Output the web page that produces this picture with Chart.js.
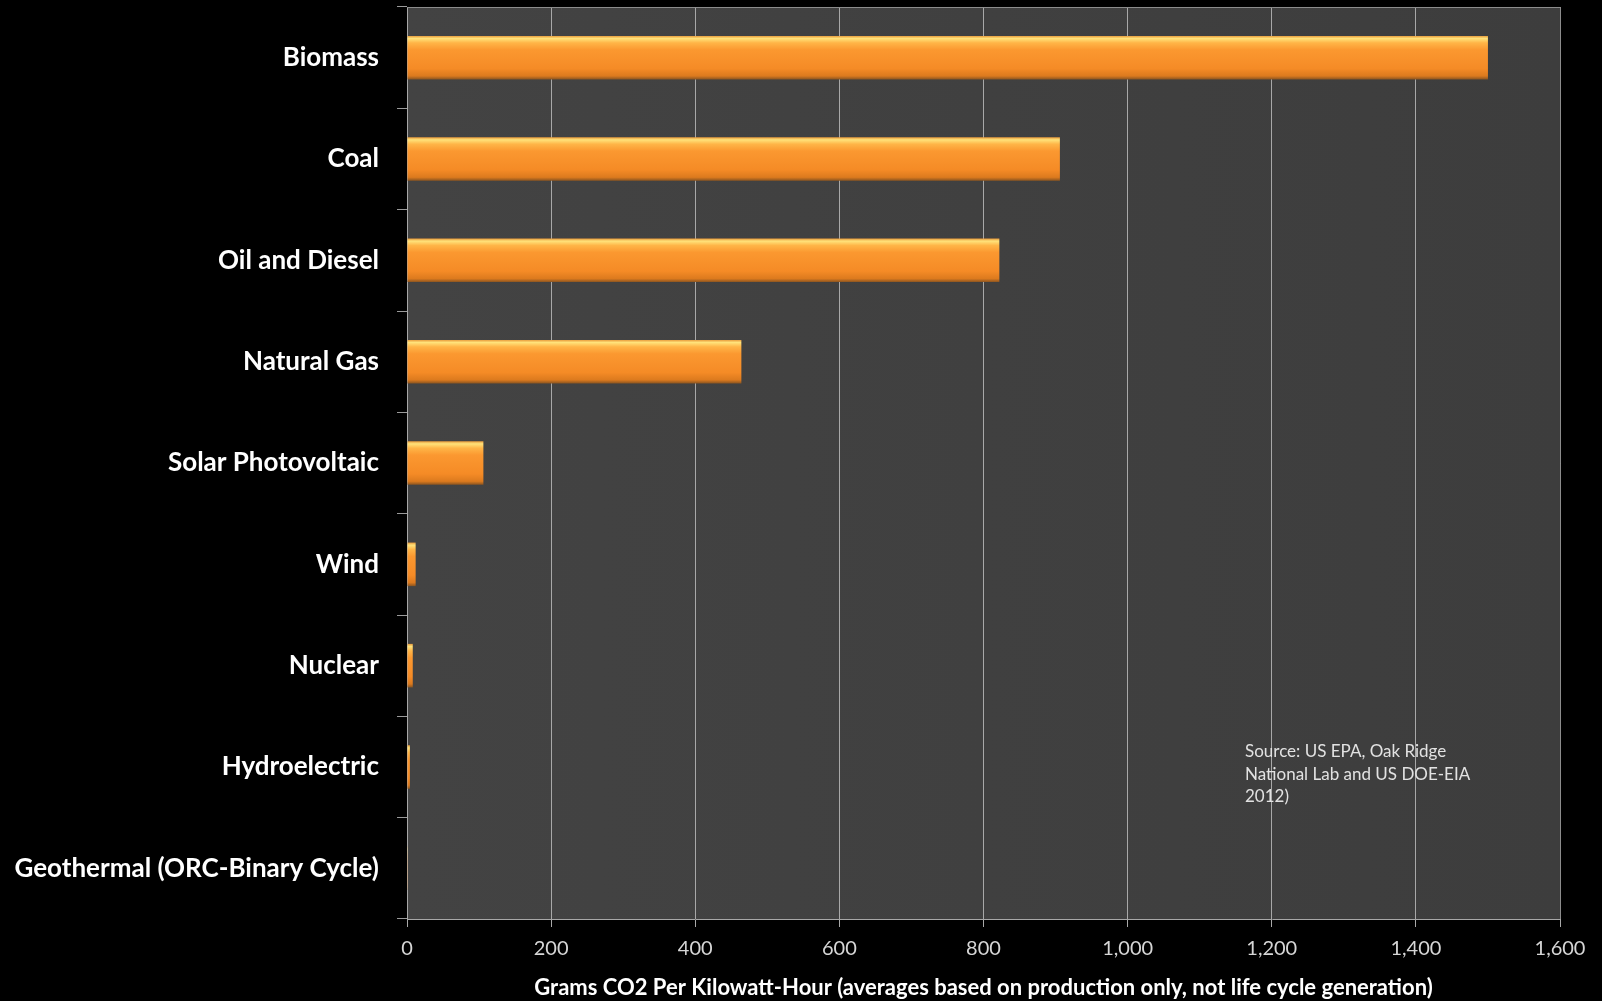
<!DOCTYPE html>
<html>
<head>
<meta charset="utf-8">
<title>Grams CO2 per kWh</title>
<script src="https://cdn.jsdelivr.net/npm/chart.js@4.4.1/dist/chart.umd.min.js"></script>
<style>
  html, body { margin: 0; padding: 0; background: #000; }
  #container { width: 1602px; height: 1001px; }
</style>
</head>
<body>
<div id="container"><canvas id="canvas" width="1602" height="1001"></canvas></div>
<script>
// emissions by generation source, grams CO2 per kWh
var categories = [
    'Biomass',
    'Coal',
    'Oil and Diesel',
    'Natural Gas',
    'Solar Photovoltaic',
    'Wind',
    'Nuclear',
    'Hydroelectric',
    'Geothermal (ORC-Binary Cycle)'
];
var gramsPerKwh = [1500, 906, 822, 464, 106, 12, 8, 4, 1];
var axisMax = 1600;
var axisStep = 200;
var axisTitle = 'Grams CO2 Per Kilowatt-Hour (averages based on production only, not life cycle generation)';
var sourceNote = ['Source: US EPA, Oak Ridge', 'National Lab and US DOE-EIA', '2012)'];

var barPct = 0.43;

// orange tube look: pale highlight on top, darker rim at bottom
function barGradient(ctx){
    var chart = ctx.chart;
    var area = chart.chartArea;
    var y = chart.scales.y;
    if (!area || !y) return '#f7902a';
    var mid = y.getPixelForValue(ctx.dataIndex);
    var half = (area.bottom - area.top) / categories.length * barPct / 2;
    var g = chart.ctx.createLinearGradient(0, mid - half, 0, mid + half);
    g.addColorStop(0, '#e89a3a');
    g.addColorStop(0.06, '#ffe27a');
    g.addColorStop(0.16, '#ffb547');
    g.addColorStop(0.32, '#fb9830');
    g.addColorStop(0.75, '#f58b26');
    g.addColorStop(0.92, '#dc7a1e');
    g.addColorStop(1, '#8a5420');
    return g;
}

// dark plot panel, top/right frame and the source note
var panelPlugin = {
    id: 'panel',
    beforeDraw: function(chart){
        var c = chart.ctx, a = chart.chartArea;
        c.save();
        var g = c.createLinearGradient(a.left, 0, a.right, 0);
        g.addColorStop(0, '#434343');
        g.addColorStop(1, '#3d3d3d');
        c.fillStyle = g;
        c.fillRect(a.left, a.top, a.right - a.left, a.bottom - a.top);
        c.restore();
    },
    afterDraw: function(chart){
        var c = chart.ctx, a = chart.chartArea;
        c.save();
        c.strokeStyle = '#8c8c8c';
        c.lineWidth = 1;
        c.beginPath();
        c.moveTo(a.left, a.top + 0.5);
        c.lineTo(a.right + 0.5, a.top + 0.5);
        c.lineTo(a.right + 0.5, a.bottom);
        c.stroke();
        c.fillStyle = '#e2e2e2';
        c.font = '17px Lato, "Open Sans", sans-serif';
        c.textBaseline = 'middle';
        for (var i = 0; i < sourceNote.length; i++) {
            c.fillText(sourceNote[i], 1245, 752 + i * 22.5);
        }
        c.restore();
    }
};

var config = {
    type: 'bar',
    data: {
        labels: categories,
        datasets: [{
            data: gramsPerKwh,
            backgroundColor: barGradient,
            borderWidth: 0,
            barPercentage: barPct,
            categoryPercentage: 1.0
        }]
    },
    options: {
        indexAxis: 'y',
        responsive: false,
        animation: false,
        layout: { padding: { left: 0, right: 42, top: 7, bottom: 0 } },
        plugins: {
            legend: { display: false },
            title: { display: false },
            tooltip: { enabled: false }
        },
        scales: {
            x: {
                min: 0,
                max: axisMax,
                ticks: {
                    stepSize: axisStep,
                    color: '#d6d6d6',
                    font: { family: 'Lato, "Open Sans", sans-serif', size: 20 },
                    padding: 10,
                    callback: function(v){ return Number(v).toLocaleString('en-US'); }
                },
                grid: {
                    color: '#a8a8a8',
                    lineWidth: 1,
                    tickLength: 8,
                    tickColor: '#a8a8a8'
                },
                border: { color: '#a8a8a8', width: 1 },
                title: {
                    display: true,
                    text: axisTitle,
                    color: '#ffffff',
                    font: { family: 'Lato, "Open Sans", sans-serif', size: 22, weight: 'bold' },
                    padding: { top: 4, bottom: 0 }
                },
                afterFit: function(scale){
                    scale.height = 82;
                    scale.paddingLeft = 0;
                    scale.paddingRight = 0;
                }
            },
            y: {
                ticks: {
                    color: '#ffffff',
                    font: { family: 'Lato, "Open Sans", sans-serif', size: 26, weight: 'bold' },
                    padding: 18
                },
                grid: {
                    drawOnChartArea: false,
                    offset: true,
                    tickLength: 10,
                    tickColor: '#9a9a9a'
                },
                border: { color: '#a8a8a8', width: 1 },
                afterFit: function(scale){
                    scale.width = 407;
                    scale.paddingTop = 0;
                    scale.paddingBottom = 0;
                }
            }
        }
    },
    plugins: [panelPlugin]
};

var context = document.getElementById('canvas').getContext('2d');
window.myBar = new Chart(context, config);
</script>
</body>
</html>
